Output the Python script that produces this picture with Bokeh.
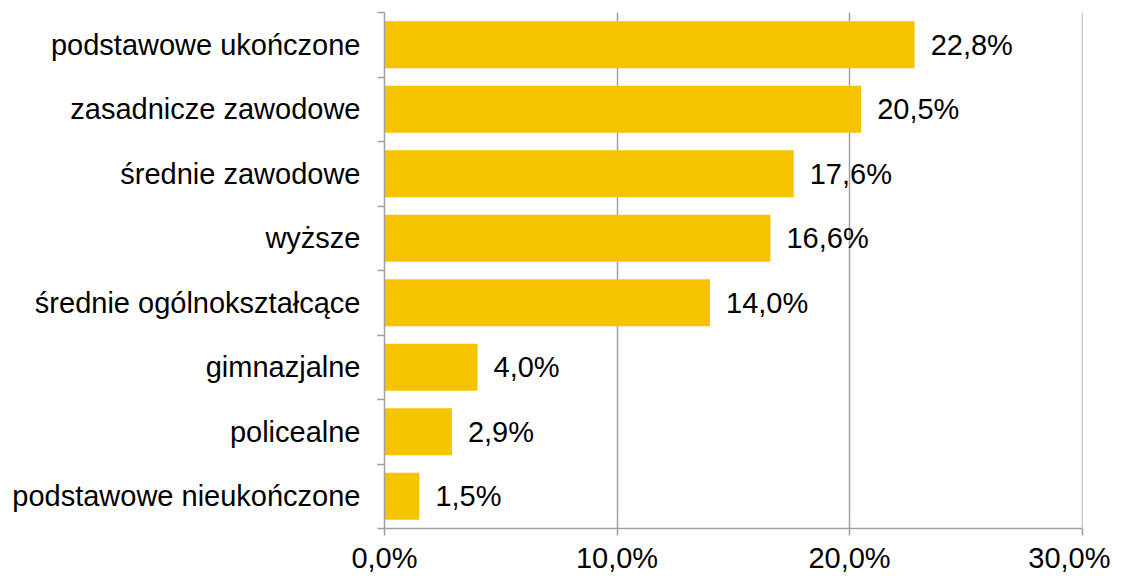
from bokeh.plotting import figure
from bokeh.models import Range1d, FixedTicker, ColumnDataSource
from bokeh.core.properties import value
from bokeh.embed import file_html
from bokeh.resources import INLINE

categories = ["podstawowe ukończone", "zasadnicze zawodowe", "średnie zawodowe", "wyższe",
              "średnie ogólnokształcące", "gimnazjalne", "policealne", "podstawowe nieukończone"]
values = [22.8, 20.5, 17.6, 16.6, 14.0, 4.0, 2.9, 1.5]
value_labels = ["22,8%", "20,5%", "17,6%", "16,6%", "14,0%", "4,0%", "2,9%", "1,5%"]
x_ticks = [0, 10, 20, 30]
x_tick_labels = ["0,0%", "10,0%", "20,0%", "30,0%"]

n = len(categories)
ypos = [n - i - 0.5 for i in range(n)]
src = ColumnDataSource(dict(y=ypos, v=values, lab=value_labels))

FONT = "Liberation Sans"

p = figure(width=1110, height=576, output_backend="svg", toolbar_location=None,
           x_range=Range1d(0, 30.02), y_range=Range1d(0, n),
           min_border_left=384, min_border_right=28, min_border_top=12, min_border_bottom=48)
p.outline_line_color = None

p.hbar(y="y", right="v", left=0, height=0.73, source=src, color="#F6C300", line_color=None)
p.text(x="v", y="y", text="lab", source=src, x_offset=16, text_baseline="middle",
       text_align="left", text_font=value(FONT), text_font_size="29px", text_color="#000000")

# x axis
p.xaxis.ticker = FixedTicker(ticks=x_ticks, minor_ticks=[])
p.xaxis.major_label_overrides = {t: l for t, l in zip(x_ticks, x_tick_labels)}
p.xaxis.major_label_text_font = FONT
p.xaxis.major_label_text_font_size = "29px"
p.xaxis.major_label_text_color = "#000000"
p.xaxis.axis_line_color = "#A0A0A0"
p.xaxis.axis_line_width = 1.5
p.xaxis.major_tick_line_color = "#A0A0A0"
p.xaxis.major_tick_line_width = 1.5
p.xaxis.major_tick_in = 0
p.xaxis.major_tick_out = 7
p.xaxis.minor_tick_line_color = None
p.xaxis.major_label_standoff = 6

# y axis: labels at centres, ticks at category boundaries
p.yaxis.ticker = FixedTicker(ticks=ypos, minor_ticks=list(range(n + 1)))
p.yaxis.major_label_overrides = {y: c for y, c in zip(ypos, categories)}
p.yaxis.major_label_text_font = FONT
p.yaxis.major_label_text_font_size = "29px"
p.yaxis.major_label_text_color = "#000000"
p.yaxis.axis_line_color = "#A0A0A0"
p.yaxis.axis_line_width = 1.5
p.yaxis.major_tick_line_color = None
p.yaxis.major_tick_in = 0
p.yaxis.major_tick_out = 0
p.yaxis.minor_tick_line_color = "#A0A0A0"
p.yaxis.minor_tick_line_width = 1.5
p.yaxis.minor_tick_in = 0
p.yaxis.minor_tick_out = 7
p.yaxis.major_label_standoff = 17

p.xgrid.ticker = FixedTicker(ticks=x_ticks)
p.xgrid.grid_line_color = "#A0A0A0"
p.xgrid.grid_line_width = 1.5
p.ygrid.grid_line_color = None

open("out.html", "w").write(file_html(p, INLINE))
